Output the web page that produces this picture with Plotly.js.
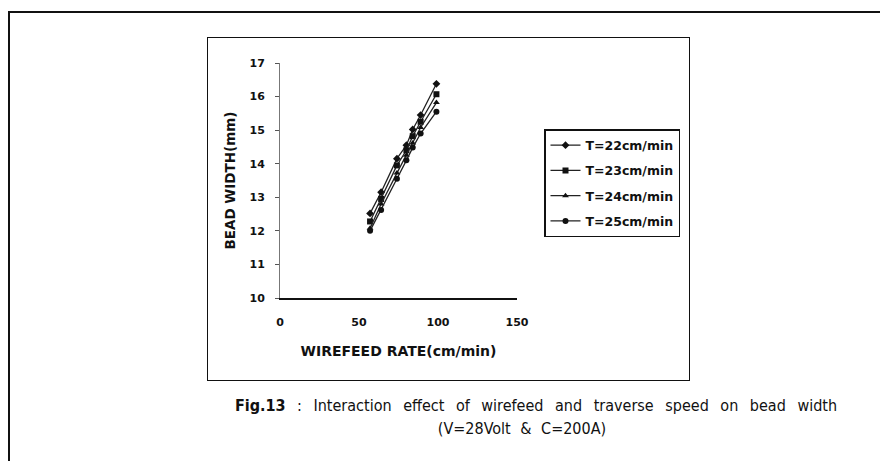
<!DOCTYPE html>
<html>
<head>
<meta charset="utf-8">
<script src="https://cdn.plot.ly/plotly-3.0.1.min.js"></script>
<style>
  html, body { margin: 0; padding: 0; background: #fff; }
  #wrap { position: relative; width: 880px; height: 461px; overflow: hidden; background: #fff; }
  #chart { position: absolute; left: 0; top: 0; width: 880px; height: 461px; }
  .frame { position: absolute; pointer-events: none; box-sizing: border-box; }
  .cap { position: absolute; text-align: center; white-space: nowrap;
         font-family: "DejaVu Sans Condensed", "DejaVu Sans", sans-serif; font-size: 16px; color: #111; line-height: 23px; }
</style>
</head>
<body>
<div id="wrap">
  <div id="chart"></div>
  <div class="frame" style="left:8px; top:11px; width:900px; height:470px; border-left:2px solid #111; border-top:2px solid #111;"></div>
  <div class="frame" style="left:207px; top:37px; width:483px; height:344px; border:1.5px solid #111;"></div>
  <div class="cap" style="left:200px; width:672px; top:394px; word-spacing:7px;"><b>Fig.13</b> : Interaction effect of wirefeed and traverse speed on bead width</div>
  <div class="cap" style="left:200px; width:644px; top:417px; word-spacing:5px;">(V=28Volt &amp; C=200A)</div>
</div>
<script>
const wirefeed = [57, 64, 74, 80, 84, 89, 99];
const seriesNames = ["T=22cm/min", "T=23cm/min", "T=24cm/min", "T=25cm/min"];
const w22 = [12.52, 13.15, 14.15, 14.55, 15.02, 15.45, 16.38];
const w23 = [12.28, 12.95, 13.95, 14.40, 14.82, 15.25, 16.07];
const w24 = [12.08, 12.80, 13.72, 14.25, 14.62, 15.08, 15.82];
const w25 = [12.00, 12.62, 13.55, 14.10, 14.48, 14.90, 15.55];
const markerSymbols = ["diamond", "square", "triangle-up", "circle"];
const yTicks = [10, 11, 12, 13, 14, 15, 16, 17];
const xTicks = [0, 50, 100, 150];

const allY = [w22, w23, w24, w25];
const traces = allY.map((ys, i) => ({
  type: "scatter", mode: "lines+markers", x: wirefeed, y: ys, name: seriesNames[i],
  legendgroup: "g" + i,
  line: { color: "#222", width: 1.3 },
  marker: { symbol: markerSymbols[i], size: 6, color: "#111" }
}));

const L = 280, R = 517, T = 63, B = 298;
const bold = "DejaVu Sans, Liberation Sans, Arial, sans-serif";
const layout = {
  width: 880, height: 461,
  margin: { l: L, r: 880 - R, t: T, b: 461 - B, pad: 0 },
  paper_bgcolor: "rgba(0,0,0,0)", plot_bgcolor: "rgba(0,0,0,0)",
  font: { family: bold, color: "#111" },
  showlegend: true,
  legend: {
    x: (544 - L) / (R - L), y: (B - 129) / (B - T), xanchor: "left", yanchor: "top",
    bordercolor: "#111", borderwidth: 1.5, bgcolor: "#fff",
    font: { size: 12.5, weight: "bold", color: "#111", family: bold },
    traceorder: "grouped", tracegroupgap: 6, itemwidth: 30
  },
  xaxis: {
    range: [0, 150], tickvals: xTicks, ticktext: xTicks.map(String),
    showgrid: false, zeroline: false, showline: true, linecolor: "#111", linewidth: 1.5,
    ticks: "", ticklabelstandoff: 13,
    tickfont: { size: 11, weight: "bold", family: bold },
    title: { text: "WIREFEED RATE(cm/min)", font: { size: 14, weight: "bold", family: bold }, standoff: 18 }
  },
  yaxis: {
    range: [10, 17], tickvals: yTicks, ticktext: yTicks.map(String),
    showgrid: false, zeroline: false, showline: true, linecolor: "#777", linewidth: 1,
    ticks: "outside", ticklen: 4, tickcolor: "#555", ticklabelstandoff: 8,
    tickfont: { size: 11, weight: "bold", family: bold },
    title: { text: "BEAD WIDTH(mm)", font: { size: 13.5, weight: "bold", family: bold }, standoff: 10 }
  }
};
Plotly.newPlot("chart", traces, layout, { displayModeBar: false, staticPlot: true });
</script>
</body>
</html>
